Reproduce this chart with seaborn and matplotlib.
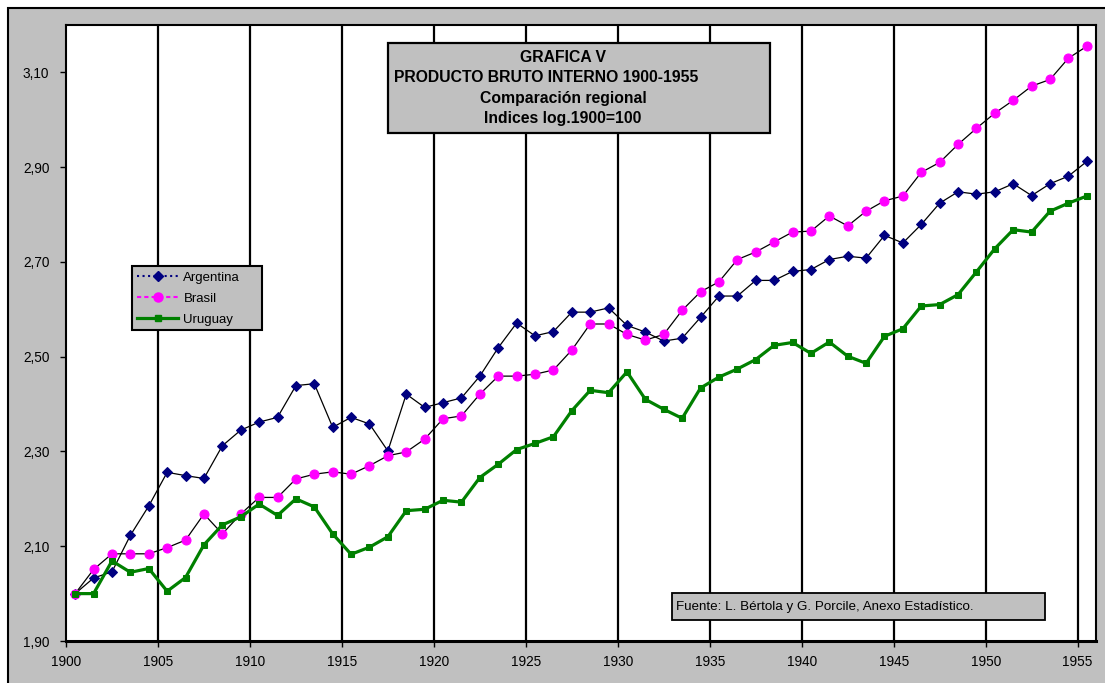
import numpy as np
import pandas as pd
import seaborn as sb
from matplotlib import pyplot as plt
from matplotlib.lines import Line2D
from matplotlib.patches import Rectangle

plt.rcParams['font.family'] = ['Liberation Sans', 'DejaVu Sans']

years = list(range(1900, 1956))

argentina = [2.000, 2.033, 2.046, 2.123, 2.185, 2.256, 2.249, 2.243, 2.312, 2.345,
             2.362, 2.372, 2.439, 2.443, 2.351, 2.372, 2.358, 2.301, 2.421, 2.393,
             2.403, 2.413, 2.459, 2.519, 2.571, 2.544, 2.553, 2.594, 2.594, 2.603,
             2.566, 2.552, 2.533, 2.539, 2.583, 2.628, 2.628, 2.661, 2.661, 2.680,
             2.684, 2.705, 2.712, 2.708, 2.756, 2.740, 2.779, 2.824, 2.848, 2.843,
             2.848, 2.865, 2.840, 2.865, 2.881, 2.912]

brasil = [2.000, 2.051, 2.084, 2.084, 2.084, 2.097, 2.113, 2.168, 2.126, 2.168,
          2.203, 2.203, 2.242, 2.252, 2.257, 2.252, 2.270, 2.291, 2.299, 2.326,
          2.369, 2.375, 2.421, 2.459, 2.459, 2.463, 2.472, 2.514, 2.569, 2.569,
          2.547, 2.535, 2.547, 2.598, 2.637, 2.658, 2.705, 2.721, 2.742, 2.763,
          2.765, 2.797, 2.776, 2.807, 2.829, 2.839, 2.889, 2.910, 2.948, 2.982,
          3.014, 3.041, 3.071, 3.085, 3.130, 3.155]

uruguay = [2.000, 2.000, 2.069, 2.045, 2.053, 2.005, 2.034, 2.103, 2.145, 2.162,
           2.189, 2.165, 2.200, 2.183, 2.126, 2.083, 2.098, 2.120, 2.175, 2.178,
           2.197, 2.193, 2.245, 2.273, 2.304, 2.317, 2.331, 2.386, 2.429, 2.424,
           2.468, 2.410, 2.389, 2.370, 2.434, 2.457, 2.474, 2.494, 2.524, 2.530,
           2.507, 2.531, 2.501, 2.486, 2.543, 2.559, 2.607, 2.610, 2.631, 2.679,
           2.728, 2.768, 2.763, 2.807, 2.824, 2.839]

x_ticks  = list(range(1900, 1956, 5))
y_ticks  = [1.90, 2.10, 2.30, 2.50, 2.70, 2.90, 3.10]
y_labels = ["1,90", "2,10", "2,30", "2,50", "2,70", "2,90", "3,10"]

title_lines = ["GRAFICA V", "PRODUCTO BRUTO INTERNO 1900-1955",
               "Comparación regional", "Indices log.1900=100"]
fuente = "Fuente: L. Bértola y G. Porcile, Anexo Estadístico."

df = pd.DataFrame({"year": years, "Argentina": argentina,
                   "Brasil": brasil, "Uruguay": uruguay})
# Excel category axis: points sit between tick marks
df["pos"] = df["year"] + 0.5

navy, magenta, green, gray = "#000080", "#FF00FF", "#008000", "#C0C0C0"

fig = plt.figure(figsize=(11.05, 6.83), dpi=100)
fig.patch.set_facecolor("white")
fig.patches.append(Rectangle((8 / 1105, -0.02), 1.0, (683 - 8) / 683 + 0.02,
                             transform=fig.transFigure, facecolor=gray,
                             edgecolor="black", lw=1.5, zorder=-1))

ax = fig.add_axes([66 / 1105, 42 / 683, 1030 / 1105, 616 / 683])
ax.set_facecolor("white")

# pixel helpers for the boxes drawn on top of the plot (reference layout)
def ax_x(px):
    return (px - 66) / 1030

def ax_y(py):
    return (641 - py) / 616

for yr in x_ticks[1:]:
    ax.axvline(yr, color="black", lw=1.6, zorder=1)

sb.lineplot(data=df, x="pos", y="Argentina", ax=ax, color="black", lw=0.9,
            marker="D", markersize=5.5, markerfacecolor=navy,
            markeredgecolor=navy, zorder=3)
sb.lineplot(data=df, x="pos", y="Brasil", ax=ax, color="black", lw=0.9,
            marker="o", markersize=6.5, markerfacecolor=magenta,
            markeredgecolor=magenta, zorder=3)
sb.lineplot(data=df, x="pos", y="Uruguay", ax=ax, color=green, lw=2.3,
            marker="s", markersize=4.5, markerfacecolor=green,
            markeredgecolor=green, zorder=4)

ax.set_xlim(1900, 1956)
ax.set_ylim(1.90, 3.20)
ax.set_xticks(x_ticks)
ax.set_xticklabels([str(t) for t in x_ticks])
ax.set_yticks(y_ticks)
ax.set_yticklabels(y_labels)
ax.tick_params(axis="both", labelsize=9.8, length=4, width=1, direction="out",
               colors="black")
ax.tick_params(axis="x", pad=6)
ax.tick_params(axis="y", pad=8)
ax.set_xlabel("")
ax.set_ylabel("")
for side, sp in ax.spines.items():
    sp.set_color("black")
    sp.set_linewidth(1.5)
ax.spines["bottom"].set_linewidth(2.2)

# title box
ax.add_patch(Rectangle((ax_x(388), ax_y(133)), ax_x(770) - ax_x(388),
                       ax_y(43) - ax_y(133), transform=ax.transAxes,
                       facecolor=gray, edgecolor="black", lw=1.6, zorder=6))
for line, px, py in zip(title_lines, [563, 546, 563, 563], [57.5, 77.5, 99, 119]):
    ax.text(ax_x(px), ax_y(py), line, transform=ax.transAxes,
            ha="center", va="center", fontsize=11.3, fontweight="bold", zorder=7)

# source box
ax.add_patch(Rectangle((ax_x(672), ax_y(620)), ax_x(1045) - ax_x(672),
                       ax_y(593) - ax_y(620), transform=ax.transAxes,
                       facecolor=gray, edgecolor="black", lw=1.3, zorder=6))
ax.text(ax_x(676), ax_y(607), fuente, transform=ax.transAxes, ha="left",
        va="center", fontsize=9.6, zorder=7)

# legend box
ax.add_patch(Rectangle((ax_x(132), ax_y(330)), ax_x(262) - ax_x(132),
                       ax_y(266) - ax_y(330), transform=ax.transAxes,
                       facecolor=gray, edgecolor="black", lw=1.5, zorder=6))
handles = [
    Line2D([], [], color=navy, ls=":", lw=1.5, marker="D", markersize=5.5,
           markerfacecolor=navy, markeredgecolor=navy),
    Line2D([], [], color=magenta, ls=(0, (2, 1.5)), lw=1.5, marker="o",
           markersize=6.5, markerfacecolor=magenta, markeredgecolor=magenta),
    Line2D([], [], color=green, ls="-", lw=2.3, marker="s", markersize=4.5,
           markerfacecolor=green, markeredgecolor=green),
]
leg = ax.legend(handles, ["Argentina", "Brasil", "Uruguay"], loc="upper left",
                bbox_to_anchor=(ax_x(132), ax_y(266)), borderaxespad=0,
                fontsize=9.5, frameon=False, handlelength=3.1,
                handletextpad=0.4, labelspacing=0.68, borderpad=0.4)
leg.set_zorder(8)

fig.savefig("out.png", dpi=100)
